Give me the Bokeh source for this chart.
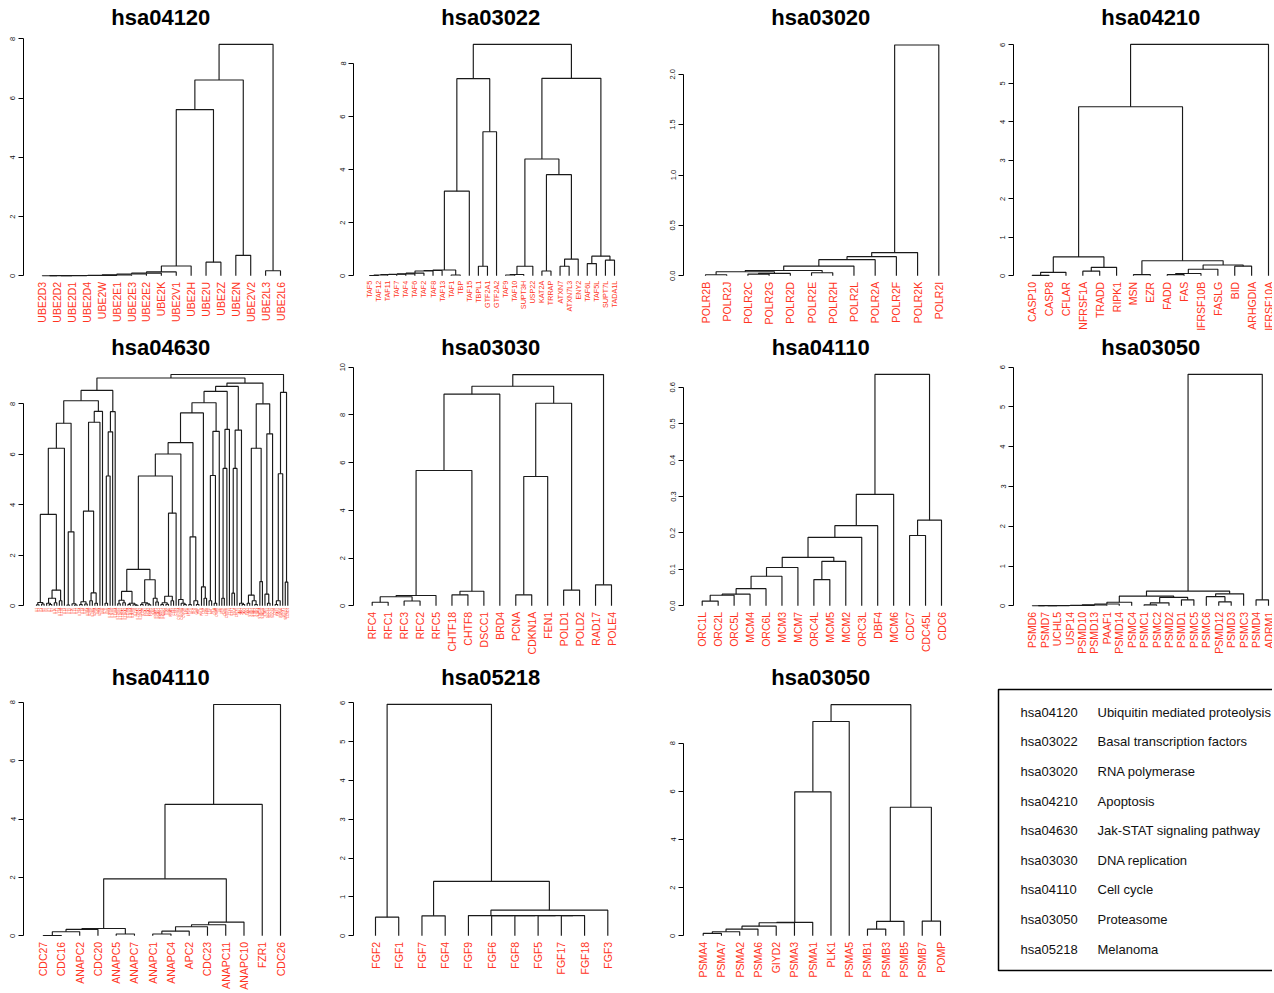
import math
from bokeh.plotting import figure
from bokeh.layouts import column, row
from bokeh.models import Range1d, FixedTicker, PrintfTickFormatter
from bokeh.embed import file_html
from bokeh.resources import INLINE
from bokeh.core.properties import value

FONT = "Liberation Sans"
RED = "#ff3322"
INK = "#1a1a1a"

# ---------------- data ----------------
# trees: (merge height, left, right); ints are leaf indices into the label list
labels_04120 = ["UBE2D3", "UBE2D2", "UBE2D1", "UBE2D4", "UBE2W", "UBE2E1", "UBE2E3", "UBE2E2",
                "UBE2K", "UBE2V1", "UBE2H", "UBE2U", "UBE2Z", "UBE2N", "UBE2V2", "UBE2L3", "UBE2L6"]
tree_04120 = (7.81,
              (6.61,
               (5.61,
                (0.33, (0.13, (0.09, (0.06, (0.03, (0.013, (0.009, (0.006, (0.004, (0.002, 0, 1), 2), 3), 4), 5), 6), 7), 8), 9), 10),
                (0.46, 11, 12)),
               (0.69, 13, 14)),
              (0.17, 15, 16))
ticks_04120 = [0, 2, 4, 6, 8]

labels_03022 = ["TAF5", "TAF12", "TAF11", "TAF7", "TAF4", "TAF6", "TAF2", "TAF8", "TAF13", "TAF1", "TBP",
                "TAF15", "TBPL1", "GTF2A1", "GTF2A2", "TAF9", "TAF10", "SUPT3H", "USP22", "KAT2A", "TRRAP",
                "ATXN7", "ATXN7L3", "ENY2", "TAF6L", "TAF5L", "SUPT7L", "TADA1L"]
taf_chain = (0.2, (0.18, (0.1, (0.07, (0.06, (0.05, (0.03, (0.01, 0, 1), 2), 3), 4), 5), 6), 7), 8)
tree_03022 = (8.72,
              (7.43, (3.19, (0.22, taf_chain, (0.03, 9, 10)), 11), (5.43, (0.36, 12, 13), 14)),
              (7.44,
               (4.40, (0.36, (0.05, (0.03, 15, 16), 17), 18),
                (3.81, (0.18, 19, 20), (0.63, (0.36, 21, 22), 23))),
               (0.74, (0.46, 24, 25), (0.59, 26, 27))))
ticks_03022 = [0, 2, 4, 6, 8]

labels_03020 = ["POLR2B", "POLR2J", "POLR2C", "POLR2G", "POLR2D", "POLR2E", "POLR2H", "POLR2L",
                "POLR2A", "POLR2F", "POLR2K", "POLR2I"]
tree_03020 = (2.29, (0.23, (0.19, (0.16, (0.096, (0.053, (0.04, (0.01, 0, 1), (0.024, (0.017, 2, 3), 4)),
                                                  (0.03, 5, 6)), 7), 8), 9), 10), 11)
ticks_03020 = [0.0, 0.5, 1.0, 1.5, 2.0]

labels_04210 = ["CASP10", "CASP8", "CFLAR", "TNFRSF1A", "TRADD", "RIPK1", "MSN", "EZR", "FADD", "FAS",
                "TNFRSF10B", "FASLG", "BID", "ARHGDIA", "TNFRSF10A"]
tree_04210 = (6.01,
              (4.39,
               (0.49, (0.09, (0.01, 0, 1), 2), (0.22, (0.12, 3, 4), 5)),
               (0.39, (0.03, 6, 7), (0.28, (0.17, (0.06, (0.03, 8, 9), 10), 11), (0.25, 12, 13)))),
              14)
ticks_04210 = [0, 1, 2, 3, 4, 5, 6]

labels_04630 = ["IL2", "IL3", "IL4", "IL5", "IL6", "IL7", "IL9", "IL10", "IL11", "IL12A", "IL12B", "IL13",
                "IL15", "IL19", "IL20", "IL21", "IL22", "IL23A", "IL24", "IL26", "IL2RA", "IL2RB", "IL2RG",
                "IL3RA", "IL4R", "IL5RA", "IL6R", "IL7R", "IL9R", "IL10RA", "IL10RB", "IL11RA", "IL12RB1",
                "IL12RB2", "IL13RA1", "IL13RA2", "IL15RA", "IL20RA", "IL20RB", "IL21R", "IL22RA1", "IL22RA2",
                "IL23R", "IFNA1", "IFNA2", "IFNB1", "IFNG", "IFNAR1", "IFNAR2", "IFNGR1", "IFNGR2", "IFNK",
                "IFNE", "IFNW1", "CSF2", "CSF3", "CSF2RA", "CSF2RB", "CSF3R", "EPO", "EPOR", "GH1", "GH2",
                "GHR", "PRL", "PRLR", "LEP", "LEPR", "TPO", "MPL", "OSM", "OSMR", "LIF", "LIFR", "CNTF",
                "CNTFR", "CTF1", "IL6ST", "TSLP", "CRLF2", "JAK1", "JAK2", "JAK3", "TYK2", "STAT1", "STAT2",
                "STAT3", "STAT4", "STAT5A", "STAT5B", "STAT6", "SOCS1", "SOCS2", "SOCS3", "CISH", "PIAS1",
                "PTPN6", "SPRY1", "SPRED1", "CCND1"]
js_a = (3.62, (0.13, (0.04, 0, 1), (0.07, 2, 3)),
        (0.62, (0.30, (0.1, 4, (0.05, 5, 6)), (0.12, 7, 8)), (0.2, 9, 10)))
js_b = (7.23, (6.24, js_a, 11), (2.93, (0.03, 12, 13), (0.08, 14, (0.03, 15, 16))))
js_c = (7.70, (7.27, (3.75, (0.16, (0.05, 17, 18), (0.07, 19, 20)), (0.51, (0.2, 21, 22), (0.1, 23, 24))), 25), 26)
js_d = (7.69, (6.89, (5.14, (0.1, 27, 28), 29), 30), 31)
js_left = (8.53, (8.12, js_b, js_c), js_d)
js_e = (1.44, (0.57, (0.22, (0.08, 32, 33), (0.12, 34, 35)), (0.1, (0.05, 36, 37), (0.04, 38, (0.02, 39, 40)))),
        (1.03, (0.12, (0.05, 41, 42), (0.08, 43, (0.04, 44, 45))), (0.3, 46, (0.15, 47, 48))))
js_f = (3.67, (0.38, (0.12, (0.05, 49, 50), (0.06, 51, 52)), (0.2, 53, 54)), 55)
js_g = (6.46, (6.01, (5.14, js_e, js_f), (0.25, 56, (0.1, 57, (0.05, 58, 59)))),
        (2.73, (0.05, 60, 61), (0.2, 62, (0.05, 63, 64))))
js_h = (8.04, (7.64, js_g, (0.75, 65, (0.3, 66, 67))), (6.91, (5.16, (0.2, 68, 69), (0.1, 70, 71)), 72))
js_i = (8.69, (8.49, js_h, (6.99, (5.44, (0.3, 73, 74), 75), 76)),
        (6.96, (5.44, (0.5, 77, 78), 79), (0.1, 80, (0.05, 81, 82))))
js_j = (8.0, (6.24, (0.42, (0.1, 83, 84), (0.2, 85, (0.05, 86, 87))), (0.96, 88, 89)),
        (6.81, (0.46, 90, (0.1, 91, 92)), 93))
js_k = (8.45, (5.23, (0.2, (0.05, 94, 95), 96), 97), (0.94, 98, 99))
tree_04630 = (9.16, (9.02, js_left, (8.82, js_i, js_j)), js_k)
ticks_04630 = [0, 2, 4, 6, 8]

labels_03030 = ["RFC4", "RFC1", "RFC3", "RFC2", "RFC5", "CHTF18", "CHTF8", "DSCC1", "BRD4", "PCNA",
                "CDKN1A", "FEN1", "POLD1", "POLD2", "RAD17", "POLE4"]
tree_03030 = (9.69,
              (9.2,
               (8.87, (5.67, (0.43, (0.38, (0.15, 0, 1), (0.2, 2, 3)), 4), (0.61, (0.46, 5, 6), 7)), 8),
               (8.49, (5.42, (0.46, 9, 10), 11), (0.66, 12, 13))),
              (0.88, 14, 15))
ticks_03030 = [0, 2, 4, 6, 8, 10]

labels_04110a = ["ORC1L", "ORC2L", "ORC5L", "MCM4", "ORC6L", "MCM3", "MCM7", "ORC4L", "MCM5", "MCM2",
                 "ORC3L", "DBF4", "MCM6", "CDC7", "CDC45L", "CDC6"]
tree_04110a = (0.635,
               (0.306, (0.22, (0.188, (0.133,
                                       (0.105, (0.081, (0.047, (0.032, (0.029, (0.013, 0, 1), 2), 3), 4), 5), 6),
                                       (0.122, (0.072, 7, 8), 9)), 10), 11), 12),
               (0.235, (0.193, 13, 14), 15))
ticks_04110a = [0.0, 0.1, 0.2, 0.3, 0.4, 0.5, 0.6]

labels_03050a = ["PSMD6", "PSMD7", "UCHL5", "USP14", "PSMD10", "PSMD13", "PAAF1", "PSMD14", "PSMC4",
                 "PSMC1", "PSMC2", "PSMD2", "PSMD1", "PSMC5", "PSMC6", "PSMD12", "PSMD3", "PSMC3",
                 "PSMD4", "ADRM1"]
psmd_chain = (0.09, (0.045, (0.025, (0.01, (0.008, (0.006, (0.004, (0.002, 0, 1), 2), 3), 4), 5), 6), 7), 8)
tree_03050a = (5.82,
               (0.37,
                (0.245, psmd_chain, (0.21, (0.075, (0.025, 9, 10), 11), (0.15, 12, 13))),
                (0.30, (0.23, 14, (0.1, 15, 16)), 17)),
               (0.15, 18, 19))
ticks_03050a = [0, 1, 2, 3, 4, 5, 6]

labels_04110b = ["CDC27", "CDC16", "ANAPC2", "CDC20", "ANAPC5", "ANAPC7", "ANAPC1", "ANAPC4", "APC2",
                 "CDC23", "ANAPC11", "ANAPC10", "FZR1", "CDC26"]
tree_04110b = (7.92,
               (4.5,
                (1.95,
                 (0.25, (0.22, (0.14, (0.01, 0, 1), 2), 3), (0.06, 4, 5)),
                 (0.47, (0.38, (0.31, (0.16, (0.06, 6, 7), 8), 9), 10), 11)),
                12),
               13)
ticks_04110b = [0, 2, 4, 6, 8]

labels_05218 = ["FGF2", "FGF1", "FGF7", "FGF4", "FGF9", "FGF6", "FGF8", "FGF5", "FGF17", "FGF18", "FGF3"]
tree_05218 = (5.96, (0.48, 0, 1),
              (1.40, (0.515, 2, 3),
               (0.66, (0.52, 4, (0.52, 5, (0.52, 6, (0.52, 7, (0.52, 8, 9))))), 10)))
ticks_05218 = [0, 1, 2, 3, 4, 5, 6]

labels_03050b = ["PSMA4", "PSMA7", "PSMA2", "PSMA6", "GIYD2", "PSMA3", "PSMA1", "PLK1", "PSMA5",
                 "PSMB1", "PSMB3", "PSMB5", "PSMB7", "POMP"]
tree_03050b = (9.6,
               (8.9, (5.98, (0.56, (0.54, (0.40, (0.28, (0.17, (0.1, 0, 1), 2), 3), 4), 5), 6), 7), 8),
               (5.34, (0.6, (0.28, 9, 10), 11), (0.61, 12, 13)))
ticks_03050b = [0, 2, 4, 6, 8]

legend_codes = ["hsa04120", "hsa03022", "hsa03020", "hsa04210", "hsa04630",
                "hsa03030", "hsa04110", "hsa03050", "hsa05218"]
legend_names = ["Ubiquitin mediated proteolysis", "Basal transcription factors", "RNA polymerase",
                "Apoptosis", "Jak-STAT signaling pathway", "DNA replication", "Cell cycle",
                "Proteasome", "Melanoma"]

# ---------------- layout helpers ----------------
def layout_tree(tree):
    leaves, segs = [], []

    def walk(node):
        if isinstance(node, int):
            leaves.append(node)
            return float(len(leaves)), 0.0
        h, a, b = node
        xa, ha = walk(a)
        xb, hb = walk(b)
        segs.append(([xa, xa, xb, xb], [ha, h, h, hb]))
        return (xa + xb) / 2.0, h

    walk(tree)
    return leaves, segs


# cells: (page x, width) per column and (page y, height) per row
COLS = [(0, 330), (330, 330), (660, 330), (990, 282)]
ROWS = [(0, 330), (330, 330), (660, 331)]


def make_panel(title, labels, tree, ticks, fmt, geo, col, rw, label_fs, label_gap):
    fx, W = COLS[col]
    fy, H = ROWS[rw]
    ax, l1, ln, y0, ytop = geo
    leaves, segs = layout_tree(tree)
    n = len(leaves)
    F0 = int(round(ax - fx))
    ax_abs = fx + F0
    s = (ln - l1) / (n - 1)
    xs = 1 - (l1 - ax_abs) / s
    xe = xs + (W - F0) / s
    k = (y0 - ytop) / ticks[-1]
    Y0 = y0 - fy
    ye = Y0 / k
    ys = -(H - Y0) / k

    p = figure(width=W, height=H, x_range=Range1d(xs, xe), y_range=Range1d(ys, ye),
               x_axis_type=None, output_backend="svg", toolbar_location=None, tools="",
               min_border_left=F0, min_border_right=0, min_border_top=0, min_border_bottom=0)
    p.outline_line_color = None
    p.grid.visible = False
    p.background_fill_color = "white"
    p.border_fill_color = "white"

    yax = p.yaxis[0]
    yax.ticker = FixedTicker(ticks=ticks)
    yax.bounds = (ticks[0], ticks[-1])
    yax.formatter = PrintfTickFormatter(format=fmt)
    yax.major_label_orientation = "vertical"
    yax.major_tick_out = 5
    yax.major_tick_in = 0
    yax.minor_tick_out = 0
    yax.minor_tick_in = 0
    yax.axis_line_color = "black"
    yax.major_tick_line_color = "black"
    yax.axis_line_width = 1
    yax.major_label_text_font = FONT
    yax.major_label_text_font_size = "7.5px"
    yax.major_label_text_color = "#111111"
    yax.major_label_standoff = 3

    p.multi_line(xs=[sg[0] for sg in segs], ys=[sg[1] for sg in segs],
                 line_color=INK, line_width=1.15)

    leaf_x = [float(i + 1) for i in range(n)]
    p.text(x=leaf_x, y=[-label_gap / k] * n, text=[labels[i] for i in leaves],
           angle=math.pi / 2, text_align="right", text_baseline="middle",
           text_font=value(FONT), text_font_size=f"{label_fs}px", text_color=RED)

    tx = xs + (ax + 137 - ax_abs) / s
    ty = 258.3 / k
    p.text(x=[tx], y=[ty], text=[title], text_align="center", text_baseline="alphabetic",
           text_font=value(FONT), text_font_style="bold", text_font_size="22px", text_color="black")
    return p


# geometry measured per panel: axis x, first leaf x, last leaf x, y of 0, y of top tick (page px)
panels = [
    ("hsa04120", labels_04120, tree_04120, ticks_04120, "%d", (23.3, 41.7, 280.0, 275.3, 38.3), 0, 0, 10.5, 6),
    ("hsa03022", labels_03022, tree_03022, ticks_03022, "%d", (353.3, 369.0, 614.0, 275.3, 63.0), 1, 0, 7.2, 5),
    ("hsa03020", labels_03020, tree_03020, ticks_03020, "%.1f", (683.3, 705.0, 938.3, 275.3, 73.7), 2, 0, 10.5, 6),
    ("hsa04210", labels_04210, tree_04210, ticks_04210, "%d", (1013.3, 1031.7, 1268.0, 275.3, 44.3), 3, 0, 10.5, 6),
    ("hsa04630", labels_04630, tree_04630, ticks_04630, "%d", (23.3, 36.0, 287.3, 605.3, 403.3), 0, 1, 3.0, 2),
    ("hsa03030", labels_03030, tree_03030, ticks_03030, "%d", (353.3, 371.7, 611.0, 605.3, 366.7), 1, 1, 10.5, 6),
    ("hsa04110", labels_04110a, tree_04110a, ticks_04110a, "%.1f", (683.3, 701.7, 941.0, 605.3, 386.7), 2, 1, 10.5, 6),
    ("hsa03050", labels_03050a, tree_03050a, ticks_03050a, "%d", (1013.3, 1031.7, 1268.0, 605.3, 366.7), 3, 1, 10.5, 6),
    ("hsa04110", labels_04110b, tree_04110b, ticks_04110b, "%d", (23.3, 42.7, 280.0, 935.3, 701.7), 0, 2, 10.5, 6),
    ("hsa05218", labels_05218, tree_05218, ticks_05218, "%d", (353.3, 375.0, 607.3, 935.3, 702.3), 1, 2, 10.5, 6),
    ("hsa03050", labels_03050b, tree_03050b, ticks_03050b, "%d", (683.3, 702.7, 940.0, 935.3, 742.7), 2, 2, 10.5, 6),
]

figs = [make_panel(*spec) for spec in panels]

# legend box (page coordinates relative to its cell)
lx, lw = COLS[3]
ly, lh = ROWS[2]
leg = figure(width=lw, height=lh, x_range=Range1d(0, lw), y_range=Range1d(lh, 0),
             x_axis_type=None, y_axis_type=None, output_backend="svg", toolbar_location=None, tools="",
             min_border=0)
leg.outline_line_color = None
leg.grid.visible = False
leg.quad(left=[998 - lx], right=[lw + 40], top=[689 - ly], bottom=[970 - ly],
         fill_color=None, line_color="black", line_width=1.5)
row_y = [711.7 - ly + 29.6 * i for i in range(len(legend_codes))]
leg.text(x=[1020 - lx] * len(legend_codes), y=row_y, text=legend_codes, text_align="left",
         text_baseline="middle", text_font=value(FONT), text_font_size="13px", text_color="#111111")
leg.text(x=[1097 - lx] * len(legend_names), y=row_y, text=legend_names, text_align="left",
         text_baseline="middle", text_font=value(FONT), text_font_size="13px", text_color="#111111")

page = column(row(*figs[0:4]), row(*figs[4:8]), row(*(figs[8:11] + [leg])))

open("out.html", "w").write(file_html(page, INLINE))
